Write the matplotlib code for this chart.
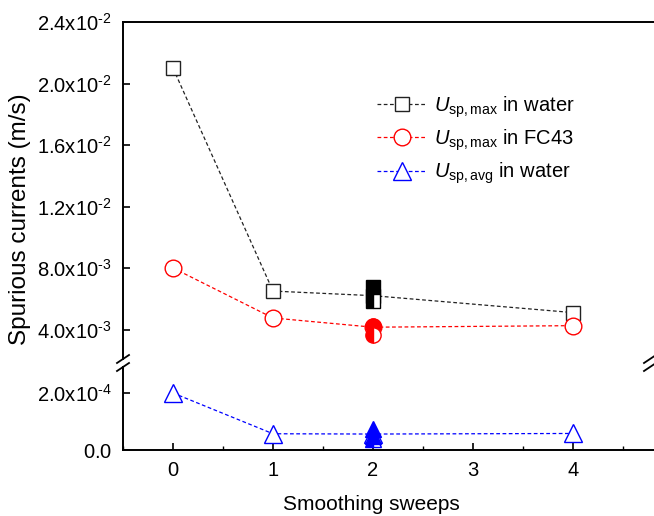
import matplotlib
matplotlib.use("Agg")
import matplotlib.pyplot as plt
from matplotlib.lines import Line2D
from matplotlib.ticker import MultipleLocator

plt.rcParams['font.family'] = ['Liberation Sans', 'DejaVu Sans']
plt.rcParams['mathtext.fontset'] = 'custom'
plt.rcParams['mathtext.rm'] = 'Liberation Sans'
plt.rcParams['mathtext.it'] = 'Liberation Sans:italic'
plt.rcParams['mathtext.bf'] = 'Liberation Sans:bold'

# ---- data ----
sweeps = [0, 1, 2, 4]
u_max_water = [2.10e-2, 6.5e-3, 6.2e-3, 5.1e-3]
u_max_fc43 = [8.0e-3, 4.75e-3, 4.15e-3, 4.25e-3]
u_avg_water = [2.0e-4, 5.7e-5, 5.6e-5, 5.8e-5]

extra_x = [2]
water_max_filled = [6.75e-3]
water_max_half = [5.85e-3]
fc43_max_filled = [4.2e-3]
fc43_max_half = [3.62e-3]
water_avg_filled = [7.3e-5, 4.8e-5]
water_avg_half = [4.0e-5]

upper_ticks = [4.0e-3, 8.0e-3, 1.2e-2, 1.6e-2, 2.0e-2, 2.4e-2]
upper_labels = ['4.0x10^{\u2010 3}', '8.0x10^{\u2010 3}', '1.2x10^{\u2010 2}',
                '1.6x10^{\u2010 2}', '2.0x10^{\u2010 2}', '2.4x10^{\u2010 2}']
lower_ticks = [0.0, 2.0e-4]
lower_labels = ['0.0', '2.0x10^{\u2010 4}']
xticks = [0, 1, 2, 3, 4]

W, H = 654, 516
fig = plt.figure(figsize=(W / 100, H / 100), dpi=100)

def fx(px):
    return px / W

def fy(py):
    return 1 - py / H

left_px, right_px = 123, 654
ax_top = fig.add_axes([fx(left_px), fy(359), fx(right_px - left_px), (359 - 22) / H])
ax_bot = fig.add_axes([fx(left_px), fy(450), fx(right_px - left_px), (450 - 367) / H])

px_per_up = 61.5 / 4e-3
ax_top.set_ylim(2.4e-2 - (359 - 22) / px_per_up, 2.4e-2)
px_per_low = 57 / 2e-4
ax_bot.set_ylim(0, (450 - 367) / px_per_low)
xmin = -0.5
ax_top.set_xlim(xmin, xmin + (right_px - left_px) / 100)
ax_bot.set_xlim(xmin, xmin + (right_px - left_px) / 100)

kw_line = dict(linestyle=(0, (3, 2)), linewidth=0.9)
black = '#222222'
ax_top.plot(sweeps, u_max_water, color=black, marker='s', markersize=10,
            markerfacecolor='white', markeredgecolor=black, markeredgewidth=1.0,
            label=r'$U_{\mathrm{sp,max}}$ in water', **kw_line)
ax_top.plot(sweeps, u_max_fc43, color='red', marker='o', markersize=12,
            markerfacecolor='white', markeredgecolor='red', markeredgewidth=1.0,
            label=r'$U_{\mathrm{sp,max}}$ in FC43', **kw_line)
ax_bot.plot(sweeps, u_avg_water, color='blue', marker='^', markersize=13,
            markerfacecolor='white', markeredgecolor='blue', markeredgewidth=1.0,
            **kw_line)
ax_top.plot([], [], color='blue', marker='^', markersize=13, markerfacecolor='white',
            markeredgecolor='blue', markeredgewidth=1.0,
            label=r'$U_{\mathrm{sp,avg}}$ in water', **kw_line)

# extra markers at x=2
ax_top.plot(extra_x * len(water_max_filled), water_max_filled, 's', color='black', markersize=10)
ax_top.plot(extra_x * len(water_max_half), water_max_half, 's', color='black', markersize=10,
            fillstyle='left', markerfacecoloralt='white', markeredgewidth=1.0)
ax_top.plot(extra_x * len(fc43_max_filled), fc43_max_filled, 'o', color='red', markersize=11)
ax_top.plot(extra_x * len(fc43_max_half), fc43_max_half, 'o', color='red', markersize=11,
            fillstyle='left', markerfacecoloralt='white', markeredgewidth=1.0)
ax_bot.plot(extra_x * len(water_avg_half), water_avg_half, '^', color='blue', markersize=12,
            fillstyle='left', markerfacecoloralt='white', markeredgewidth=1.0)
ax_bot.plot(extra_x * len(water_avg_filled), water_avg_filled, '^', color='blue', markersize=12)

for ax in (ax_top, ax_bot):
    ax.spines['right'].set_visible(False)
    for s in ax.spines.values():
        s.set_linewidth(1.4)
    ax.patch.set_visible(False)
ax_top.spines['bottom'].set_visible(False)
ax_bot.spines['top'].set_visible(False)

TS = 14.5
ax_top.set_yticks(upper_ticks)
ax_top.set_yticklabels(['$\\mathregular{' + l + '}$' for l in upper_labels])
ax_bot.set_yticks(lower_ticks)
ax_bot.set_yticklabels(['$\\mathregular{' + l + '}$' for l in lower_labels])
ax_top.tick_params(axis='x', bottom=False, labelbottom=False, top=False)
ax_top.tick_params(axis='y', direction='in', length=5, width=1.2, labelsize=TS, pad=8)
ax_bot.tick_params(axis='y', direction='in', length=5, width=1.2, labelsize=TS, pad=8)
ax_bot.set_xticks(xticks)
ax_bot.xaxis.set_minor_locator(MultipleLocator(0.5))
ax_bot.tick_params(axis='x', which='major', direction='in', length=5, width=1.2,
                   labelsize=TS, pad=8)
ax_bot.tick_params(axis='x', which='minor', direction='in', length=3, width=1.0)

fig.text(fx(371), fy(504), 'Smoothing sweeps', fontsize=15, ha='center', va='center')
fig.text(fx(20), fy(219), 'Spurious currents (m/s)', rotation=90, fontsize=17.5,
         ha='center', va='center')

leg = ax_top.legend(loc='upper left', bbox_to_anchor=(fx(359), fy(76)),
                    bbox_transform=fig.transFigure, frameon=False, fontsize=14.5,
                    handlelength=2.5, handletextpad=0.3, labelspacing=0.38)

def brk(xp, yp):
    fig.add_artist(Line2D([fx(xp - 6), fx(xp + 6)], [fy(yp + 4), fy(yp - 4)],
                          color='black', linewidth=1.3))

for yp in (359, 367):
    brk(left_px, yp)
    brk(650, yp)

fig.savefig('out.png', dpi=100)
